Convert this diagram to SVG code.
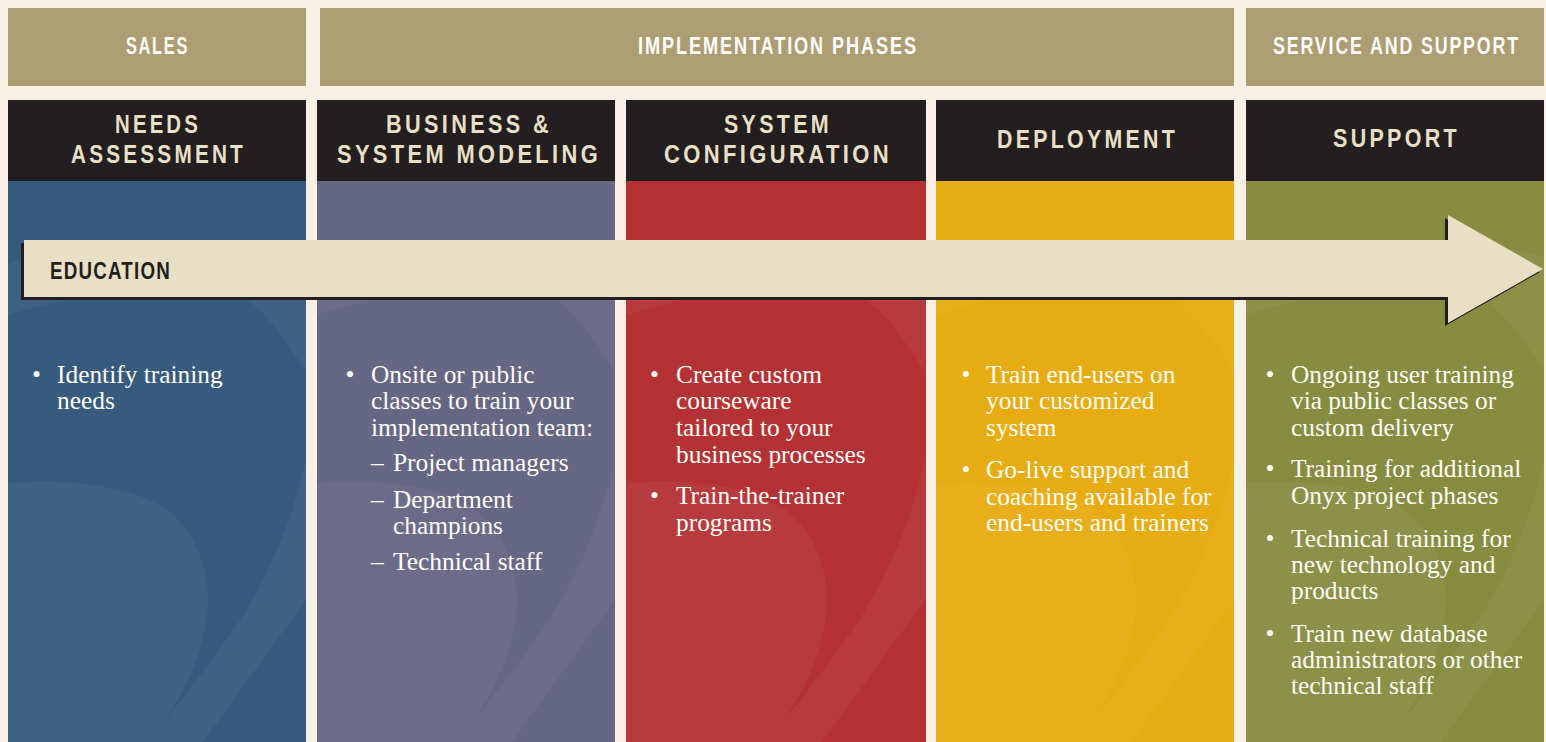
<svg xmlns="http://www.w3.org/2000/svg" xmlns:xlink="http://www.w3.org/1999/xlink" width="1546" height="742" viewBox="0 0 1546 742">
<defs>
<style>
.bg{fill:#F8F0E4}
.tan{fill:#AD9D72}
.hdr{fill:#231F20}
.t1{font-family:"Liberation Sans Narrow","Liberation Sans",Arial,sans-serif;font-weight:bold;font-size:24px;fill:#FFFFFF;letter-spacing:2.5px}
.t2{font-family:"Liberation Sans Narrow","Liberation Sans",Arial,sans-serif;font-weight:bold;font-size:26px;fill:#E8DFC4;letter-spacing:4px}
.edu{font-family:"Liberation Sans Narrow","Liberation Sans",Arial,sans-serif;font-weight:bold;font-size:23.5px;fill:#231F20;letter-spacing:1.5px}
.body{font-family:"Liberation Serif","Times New Roman",serif;font-size:25.4px;fill:#FFFDF6}
.bul{font-family:"Liberation Serif","Times New Roman",serif;font-size:25.4px;fill:#FFFDF6;text-anchor:middle}
.sw{fill:#FFFFFF;fill-opacity:0.045}
</style>
<clipPath id="colclip" clipPathUnits="userSpaceOnUse"><rect x="0" y="181" width="298" height="561"/></clipPath>
<g id="swoosh">
<path class="sw" d="M -20,272 C 40,242 200,226 300,258 L 360,290 L 360,560 L 298,600 C 280,625 240,680 195,742 L 185,760 L 150,760 L 152,727 C 172,702 205,660 232,620 C 255,585 275,540 285,507 C 291,488 295,472 298,460 C 318,430 318,400 298,372 C 278,340 258,312 235,297 C 170,280 80,290 0,315 L -20,322 Z"/>
<path class="sw" d="M -20,483 L 0,483 C 60,478 130,485 165,515 C 192,540 200,575 200,600 C 200,640 180,690 152,727 L 150,760 L -20,760 Z"/>
</g>
</defs>

<rect class="bg" x="0" y="0" width="1546" height="742"/>

<g id="phase-sales">
<rect class="tan" x="8" y="8" width="298" height="78"/>
<text class="t1" x="126" y="54" textLength="63" lengthAdjust="spacingAndGlyphs">SALES</text>
</g>
<g id="phase-implementation">
<rect class="tan" x="320" y="8" width="914" height="78"/>
<text class="t1" x="638" y="54" textLength="280" lengthAdjust="spacingAndGlyphs">IMPLEMENTATION PHASES</text>
</g>
<g id="phase-service">
<rect class="tan" x="1246" y="8" width="298" height="78"/>
<text class="t1" x="1273" y="54" textLength="247" lengthAdjust="spacingAndGlyphs">SERVICE AND SUPPORT</text>
</g>

<g id="col-needs-assessment">
<rect class="hdr" x="8" y="100" width="298" height="81"/>
<text class="t2" x="115" y="133" textLength="86" lengthAdjust="spacingAndGlyphs">NEEDS</text>
<text class="t2" x="71" y="163" textLength="175" lengthAdjust="spacingAndGlyphs">ASSESSMENT</text>
<rect x="8" y="181" width="298" height="561" fill="#375A7F"/>
<g transform="translate(8,0)"><use xlink:href="#swoosh" href="#swoosh" clip-path="url(#colclip)"/></g>
<text class="bul" x="36.5" y="383">•</text>
<text class="body" x="57" y="383">Identify training</text>
<text class="body" x="57" y="409">needs</text>
</g>

<g id="col-business-modeling">
<rect class="hdr" x="317" y="100" width="298" height="81"/>
<text class="t2" x="386" y="133" textLength="166" lengthAdjust="spacingAndGlyphs">BUSINESS &amp;</text>
<text class="t2" x="337" y="163" textLength="264" lengthAdjust="spacingAndGlyphs">SYSTEM MODELING</text>
<rect x="317" y="181" width="298" height="561" fill="#666685"/>
<g transform="translate(317,0)"><use xlink:href="#swoosh" href="#swoosh" clip-path="url(#colclip)"/></g>
<text class="bul" x="350" y="383">•</text>
<text class="body" x="371" y="383">Onsite or public</text>
<text class="body" x="371" y="409">classes to train your</text>
<text class="body" x="371" y="436">implementation team:</text>
<text class="body" x="371" y="471">–</text>
<text class="body" x="393" y="471">Project managers</text>
<text class="body" x="371" y="508">–</text>
<text class="body" x="393" y="508">Department</text>
<text class="body" x="393" y="534">champions</text>
<text class="body" x="371" y="570">–</text>
<text class="body" x="393" y="570">Technical staff</text>
</g>

<g id="col-system-configuration">
<rect class="hdr" x="626" y="100" width="300" height="81"/>
<text class="t2" x="724" y="133" textLength="108" lengthAdjust="spacingAndGlyphs">SYSTEM</text>
<text class="t2" x="664" y="163" textLength="228" lengthAdjust="spacingAndGlyphs">CONFIGURATION</text>
<rect x="626" y="181" width="300" height="561" fill="#B43236"/>
<g transform="translate(627,0)"><use xlink:href="#swoosh" href="#swoosh" clip-path="url(#colclip)"/></g>
<text class="bul" x="654.5" y="383">•</text>
<text class="body" x="676" y="383">Create custom</text>
<text class="body" x="676" y="409">courseware</text>
<text class="body" x="676" y="436">tailored to your</text>
<text class="body" x="676" y="463">business processes</text>
<text class="bul" x="654.5" y="504">•</text>
<text class="body" x="676" y="504">Train-the-trainer</text>
<text class="body" x="676" y="531">programs</text>
</g>

<g id="col-deployment">
<rect class="hdr" x="936" y="100" width="298" height="81"/>
<text class="t2" x="997" y="148" textLength="181" lengthAdjust="spacingAndGlyphs">DEPLOYMENT</text>
<rect x="936" y="181" width="298" height="561" fill="#E7AC11"/>
<g transform="translate(936,0)"><use xlink:href="#swoosh" href="#swoosh" clip-path="url(#colclip)"/></g>
<text class="bul" x="966" y="383">•</text>
<text class="body" x="986" y="383">Train end-users on</text>
<text class="body" x="986" y="409">your customized</text>
<text class="body" x="986" y="436">system</text>
<text class="bul" x="966" y="478">•</text>
<text class="body" x="986" y="478">Go-live support and</text>
<text class="body" x="986" y="505">coaching available for</text>
<text class="body" x="986" y="531">end-users and trainers</text>
</g>

<g id="col-support">
<rect class="hdr" x="1246" y="100" width="298" height="81"/>
<text class="t2" x="1333" y="147" textLength="127" lengthAdjust="spacingAndGlyphs">SUPPORT</text>
<rect x="1246" y="181" width="298" height="561" fill="#868D41"/>
<g transform="translate(1246,0)"><use xlink:href="#swoosh" href="#swoosh" clip-path="url(#colclip)"/></g>
<text class="bul" x="1270" y="383">•</text>
<text class="body" x="1291" y="383">Ongoing user training</text>
<text class="body" x="1291" y="409">via public classes or</text>
<text class="body" x="1291" y="436">custom delivery</text>
<text class="bul" x="1270" y="477">•</text>
<text class="body" x="1291" y="477">Training for additional</text>
<text class="body" x="1291" y="504">Onyx project phases</text>
<text class="bul" x="1270" y="547">•</text>
<text class="body" x="1291" y="547">Technical training for</text>
<text class="body" x="1291" y="573">new technology and</text>
<text class="body" x="1291" y="599">products</text>
<text class="bul" x="1270" y="642">•</text>
<text class="body" x="1291" y="642">Train new database</text>
<text class="body" x="1291" y="668">administrators or other</text>
<text class="body" x="1291" y="694">technical staff</text>
</g>

<g id="connectors">
<g id="education-arrow">
<polygon points="21,243 1445,243 1445,218 1540,272 1445,326 1445,300 21,300" fill="#231F20"/>
<polygon points="24,240 1448,240 1448,215 1543,269 1448,323 1448,297 24,297" fill="#E8DFC4"/>
<text class="edu" x="50" y="279" textLength="121" lengthAdjust="spacingAndGlyphs">EDUCATION</text>
</g>
</g>
</svg>
